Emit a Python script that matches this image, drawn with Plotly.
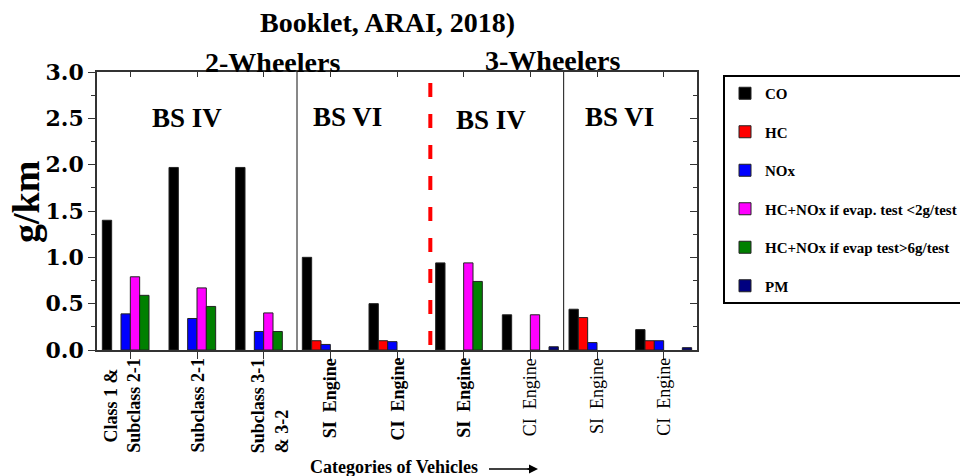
import plotly.graph_objects as go

# ---------------- data ----------------
categories = [
    "Class 1 &<br>Subclass 2-1",
    "Subclass 2-1",
    "Subclass 3-1<br>& 3-2",
    "SI\u00a0\u00a0Engine",
    "CI\u00a0\u00a0Engine",
    "SI\u00a0\u00a0Engine",
    "CI\u00a0\u00a0Engine",
    "SI\u00a0\u00a0Engine",
    "CI\u00a0\u00a0Engine",
]
label_bold = [True, True, True, True, True, True, False, False, False]

series_names = [
    "CO",
    "HC",
    "NOx",
    "HC+NOx if evap. test &lt;2g/test",
    "HC+NOx if evap test&gt;6g/test",
    "PM",
]
co = [1.40, 1.97, 1.97, 1.00, 0.50, 0.94, 0.38, 0.44, 0.22]
hc = [None, None, None, 0.10, 0.10, None, None, 0.35, 0.10]
nox = [0.39, 0.34, 0.20, 0.06, 0.09, None, None, 0.08, 0.10]
hcnox_lt2 = [0.79, 0.67, 0.40, None, None, 0.94, 0.38, None, None]
hcnox_gt6 = [0.59, 0.47, 0.20, None, None, 0.74, None, None, None]
pm = [None, None, None, None, None, None, 0.035, None, 0.025]
series_values = [co, hc, nox, hcnox_lt2, hcnox_gt6, pm]
series_colors = ["#000000", "#ff0000", "#0000ff", "#ff00ff", "#008000", "#000080"]

y_ticks = [0.0, 0.5, 1.0, 1.5, 2.0, 2.5, 3.0]
y_ticktext = ["0.0", "0.5", "1.0", "1.5", "2.0", "2.5", "3.0"]

# ---------------- geometry helpers ----------------
W, H = 960, 476
L, R, T, B = 97, 697, 72, 350


def px_x(x):
    return (x - L) / (R - L)


def px_y(y):
    return (B - y) / (B - T)


FONT = "Liberation Serif"
xidx = list(range(len(categories)))
label_align = ["center", "left", "left", "left", "left", "left", "left", "left", "left"]
label_xshift = [-8, 0, 6, 0, 0, 0, 0, 0, 0]

fig = go.Figure()
for name, vals, col in zip(series_names, series_values, series_colors):
    fig.add_trace(go.Bar(
        x=xidx, y=vals, name=name, legendgroup=name,
        marker=dict(color=col, line=dict(color="#222222", width=1)),
    ))

# dummy trace to activate mirror axes
fig.add_trace(go.Scatter(x=[None], y=[None], xaxis="x2", yaxis="y2",
                         showlegend=False, hoverinfo="skip"))

fig.update_layout(
    width=W, height=H,
    margin=dict(l=L, r=W - R, t=T, b=H - B, autoexpand=False),
    paper_bgcolor="white", plot_bgcolor="white",
    barmode="group", bargap=0.16, bargroupgap=0.0,
    font=dict(family=FONT, color="black"),
    showlegend=True,
    legend=dict(
        x=px_x(723), y=px_y(75), xanchor="left", yanchor="top",
        bordercolor="black", borderwidth=2, bgcolor="white",
        font=dict(family=FONT, size=15, color="black", weight="bold"),
        tracegroupgap=16, itemwidth=30,
    ),
    xaxis=dict(
        range=[-0.5, 8.5], tickvals=xidx, ticktext=[""] * len(xidx),
        showticklabels=False, ticks="outside", ticklen=7, tickwidth=1.2,
        tickcolor="#333", showline=True, linecolor="#333", linewidth=1.5,
        showgrid=False, zeroline=False, automargin=False,
    ),
    xaxis2=dict(
        range=[-0.5, 8.5], overlaying="x", side="top", anchor="y",
        tickvals=xidx, showticklabels=False, ticks="inside", ticklen=5,
        tickwidth=1.2, tickcolor="#333", showline=True, linecolor="#333",
        linewidth=1.5, showgrid=False, zeroline=False, automargin=False,
    ),
    yaxis=dict(
        range=[0, 3], tickvals=y_ticks, ticktext=y_ticktext,
        ticks="outside", ticklen=7, tickwidth=1.2, tickcolor="#333",
        minor=dict(dtick=0.25, ticks="outside", ticklen=4, tickcolor="#333", showgrid=False),
        showline=True, linecolor="#333", linewidth=1.5,
        showgrid=False, zeroline=False, automargin=False,
        tickfont=dict(family="DejaVu Serif", size=22, color="black", weight="bold"),
    ),
    yaxis2=dict(
        range=[0, 3], overlaying="y", side="right", anchor="x",
        tickvals=y_ticks, showticklabels=False,
        ticks="inside", ticklen=7, tickwidth=1.2, tickcolor="#333",
        minor=dict(dtick=0.25, ticks="inside", ticklen=4, tickcolor="#333", showgrid=False),
        showline=True, linecolor="#333", linewidth=1.5,
        showgrid=False, zeroline=False, automargin=False,
    ),
)

# dividers
for xv in (2.5, 6.5):
    fig.add_shape(type="line", xref="x", yref="paper", x0=xv, x1=xv, y0=0, y1=1,
                  line=dict(color="#111", width=1))
fig.add_shape(type="line", xref="x", yref="paper", x0=4.5, x1=4.5,
              y0=px_y(345), y1=px_y(80),
              line=dict(color="#ff0000", width=4, dash="14px,17px"))
# arrow shaft
fig.add_shape(type="line", xref="paper", yref="paper",
              x0=px_x(489), x1=px_x(532), y0=px_y(469), y1=px_y(469),
              line=dict(color="black", width=1.5))

ann = []


def text(x, y, s, size, bold=True, angle=0, **kw):
    ann.append(dict(
        xref="paper", yref="paper", x=px_x(x), y=px_y(y), text=s,
        xanchor="center", yanchor="middle",
        showarrow=False, textangle=angle,
        font=dict(family=FONT, size=size, color="black",
                  weight="bold" if bold else "normal"),
        **kw,
    ))


text(387, 22, "Booklet, ARAI, 2018)", 28)
text(272, 62, "2-Wheelers", 28)
text(552, 60, "3-Wheelers", 28)
text(187, 118, "BS IV", 27)
text(347, 117, "BS VI", 27)
text(491, 120, "BS IV", 27)
text(619, 117, "BS VI", 27)
text(26, 202, "g/km", 38, angle=-90)
text(394, 467, "Categories of Vehicles", 18)

# category labels
for i, (lab, bold) in enumerate(zip(categories, label_bold)):
    ann.append(dict(
        xref="x", yref="paper", x=i, y=0, yshift=-6, yanchor="top",
        xanchor="center", xshift=label_xshift[i], text=lab, showarrow=False,
        textangle=-90, align=label_align[i],
        font=dict(family=FONT, size=18, color="black",
                  weight="bold" if bold else "normal"),
    ))

# arrow head
ann.append(dict(
    xref="paper", yref="paper", x=px_x(538), y=px_y(469), text="",
    showarrow=True, ax=-12, ay=0, arrowhead=2, arrowsize=1.2, arrowwidth=1.5,
    arrowcolor="black", standoff=0, startstandoff=0,
))

fig.update_layout(annotations=ann)

fig.write_html("out.html", config={"displayModeBar": False},
               post_script="document.body.style.margin='0';")
